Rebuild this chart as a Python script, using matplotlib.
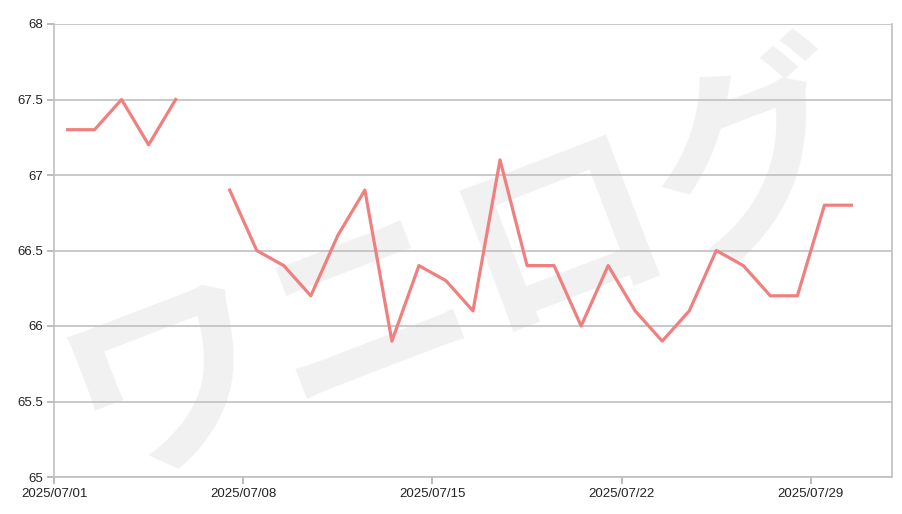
import numpy as np
import pandas as pd
import matplotlib
matplotlib.use("Agg")
import matplotlib.pyplot as plt
import matplotlib.dates as mdates

plt.rcParams['font.family'] = ['Liberation Sans', 'DejaVu Sans']

# daily values, NaN = no data (07/06)
dates = pd.date_range("2025-07-01", "2025-07-30", freq="D")
values = [67.3, 67.3, 67.5, 67.2, 67.5, np.nan,
          66.9, 66.5, 66.4, 66.2, 66.6, 66.9, 65.9,
          66.4, 66.3, 66.1, 67.1, 66.4, 66.4, 66.0,
          66.4, 66.1, 65.9, 66.1, 66.5, 66.4, 66.2,
          66.2, 66.8, 66.8]
tick_dates = pd.to_datetime(["2025-07-01", "2025-07-08", "2025-07-15",
                             "2025-07-22", "2025-07-29"])
y_ticks = [65, 65.5, 66, 66.5, 67, 67.5, 68]
y_labels = ["65", "65.5", "66", "66.5", "67", "67.5", "68"]

fig = plt.figure(figsize=(9.03, 5.14), dpi=100)
fig.patch.set_facecolor("white")

# watermark behind everything
fig.text(0.515, 0.47, "ワニログ", family=['Noto Sans CJK JP', 'DejaVu Sans'],
         fontsize=150, fontweight='bold', color="#f1f1f1", rotation=21,
         ha='center', va='center', zorder=0)

ax = fig.add_axes([54 / 903, 1 - 477 / 514, (892 - 54) / 903, (477 - 24) / 514])
ax.set_facecolor("none")
ax.set_zorder(1)

# points sit in the middle of each day
xpos = dates + pd.Timedelta(hours=12)
ax.plot(xpos, values, color="#f08080", linewidth=2.3, zorder=3)

ax.set_xlim(pd.Timestamp("2025-07-01"), pd.Timestamp("2025-08-01"))
ax.set_ylim(65, 68)
ax.set_yticks(y_ticks)
ax.set_yticklabels(y_labels)
ax.set_xticks(tick_dates)
ax.xaxis.set_major_formatter(mdates.DateFormatter("%Y/%m/%d"))

ax.grid(axis='y', color="#c0c0c0", linewidth=1.2)
ax.set_axisbelow(True)
for s in ax.spines.values():
    s.set_color("#c0c0c0")
    s.set_linewidth(1.2)
ax.spines['top'].set_visible(False)
ax.tick_params(colors="#b0b0b0", length=5, width=1.2, labelcolor="#222222",
               labelsize=9.5)
ax.tick_params(axis='x', pad=3)
ax.tick_params(axis='y', pad=3)

fig.savefig("out.png", dpi=100, facecolor="white")
